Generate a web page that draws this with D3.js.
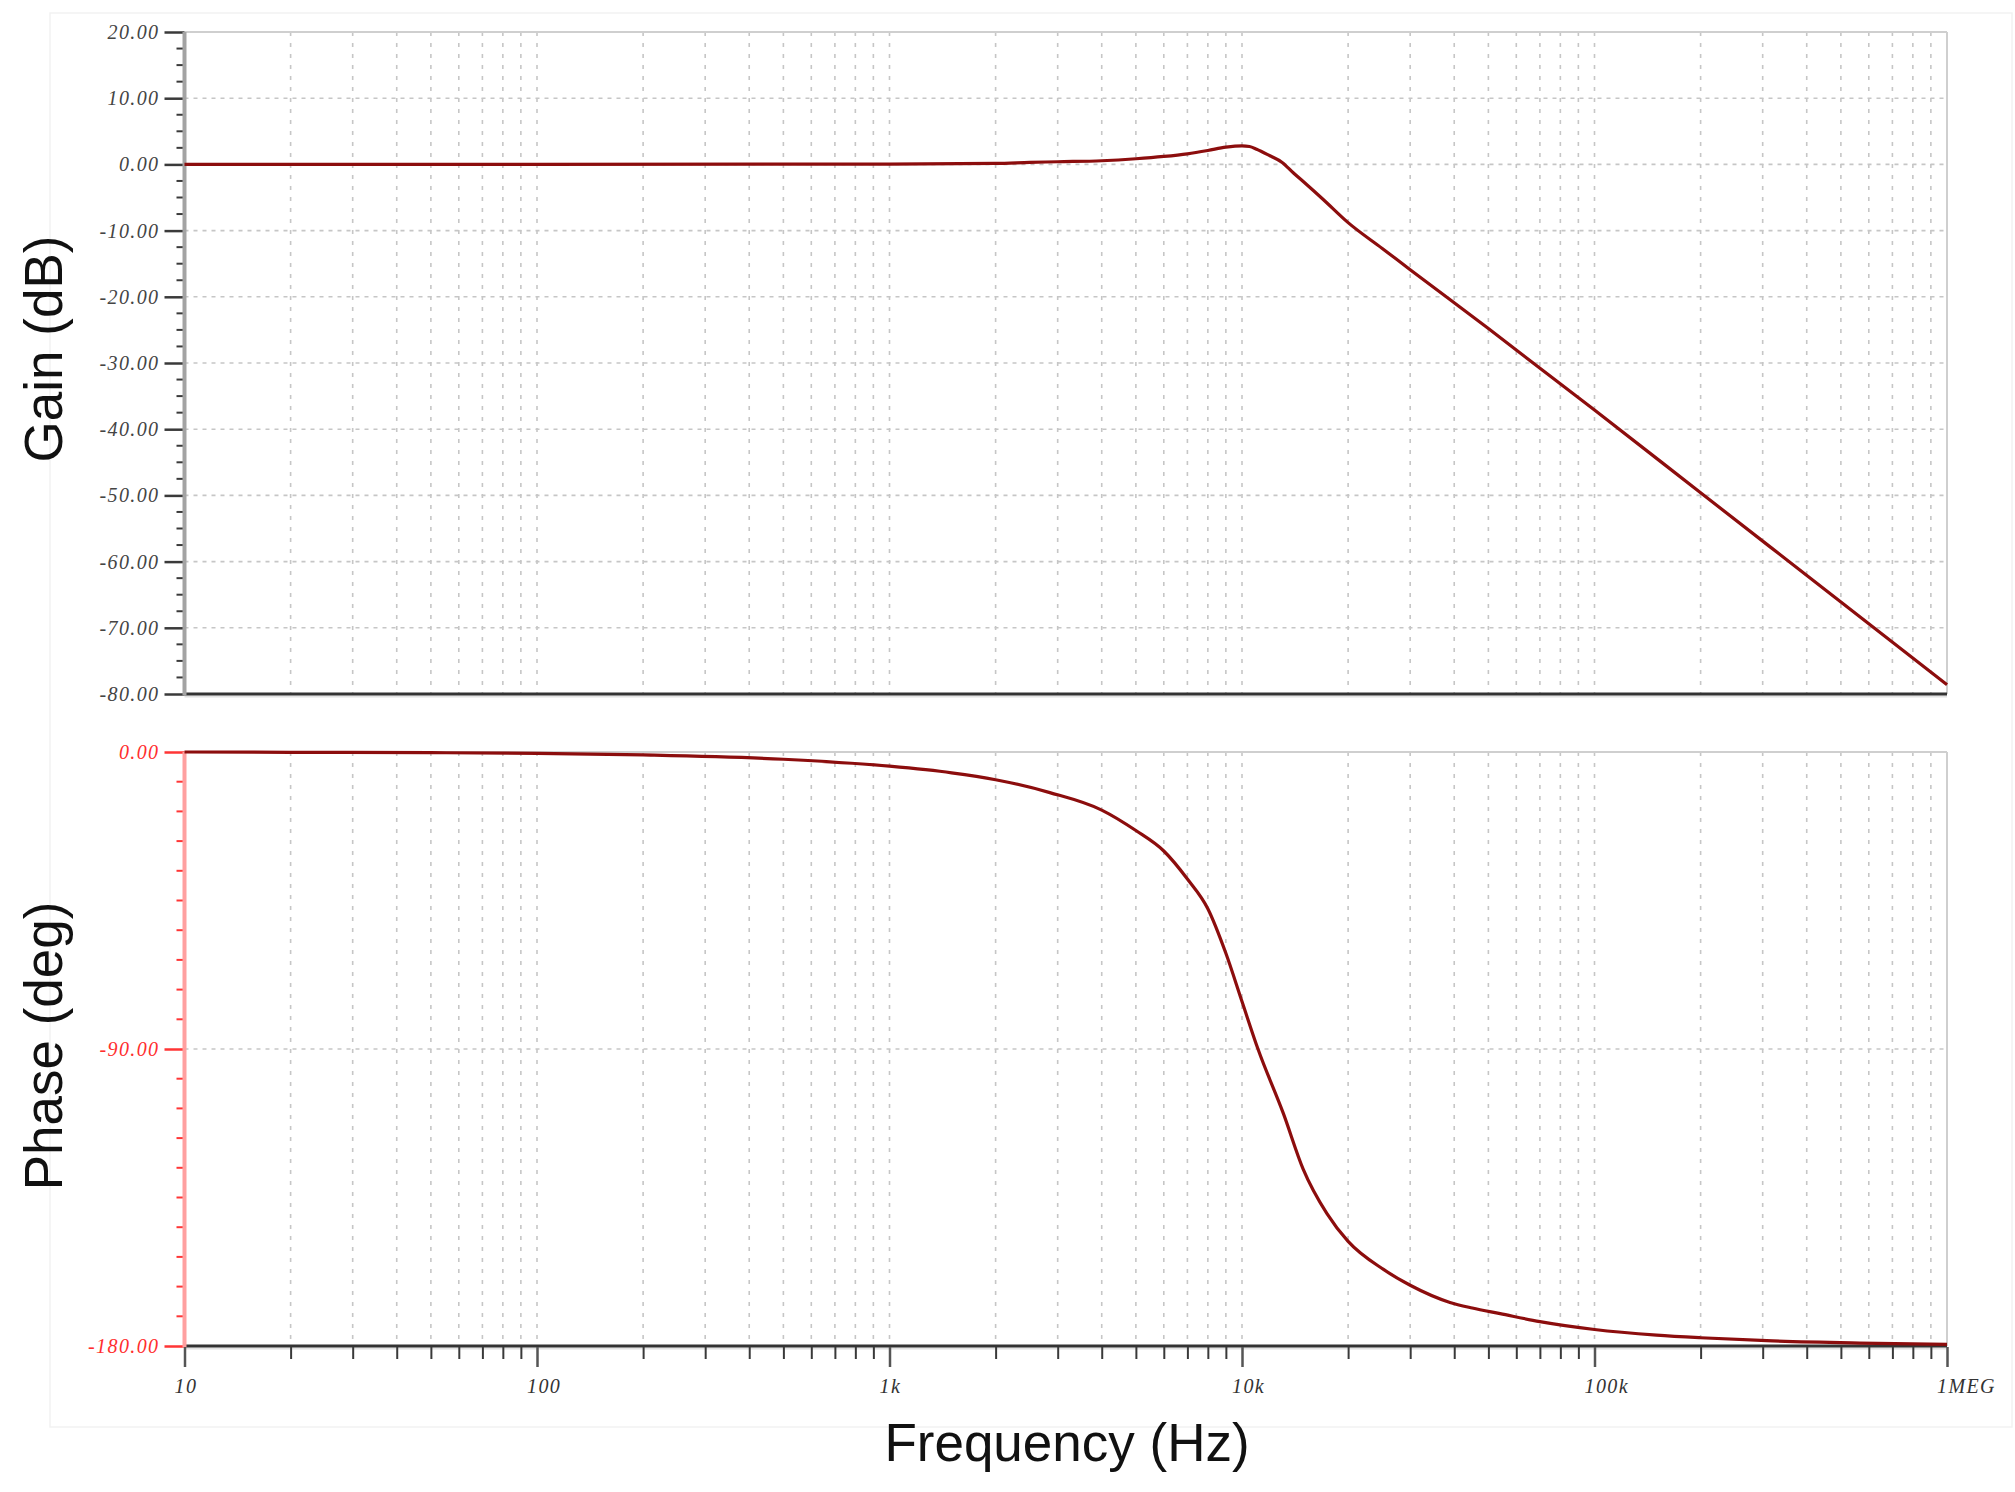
<!DOCTYPE html>
<html>
<head>
<meta charset="utf-8">
<script src="https://cdn.jsdelivr.net/npm/d3@7/dist/d3.min.js"></script>
<style>
  body { margin: 0; background: #fff; }
  svg { display: block; }
  .tick-label { font-family: "Liberation Serif", "Times New Roman", serif; font-style: italic; font-size: 20px; letter-spacing: 1.4px; }
  .title { font-family: "Liberation Sans", Arial, sans-serif; font-size: 53px; fill: #111; }
</style>
</head>
<body>
<svg id="chart"></svg>
<script>
// frequency axis
const freqTicks = [10, 100, 1000, 10000, 100000, 1000000];
const freqTickLabels = ["10", "100", "1k", "10k", "100k", "1MEG"];

// gain axis
const gainTicks = [20, 10, 0, -10, -20, -30, -40, -50, -60, -70, -80];
const gainTickLabels = ["20.00", "10.00", "0.00", "-10.00", "-20.00", "-30.00", "-40.00", "-50.00", "-60.00", "-70.00", "-80.00"];

// phase axis
const phaseTicks = [0, -90, -180];
const phaseTickLabels = ["0.00", "-90.00", "-180.00"];

// gain curve (Hz, dB)
const gainFreq = [10, 100, 1000, 2000, 2500, 3000, 4000, 5000, 6000, 7000, 8000, 9000, 10000, 10500, 11000, 12000, 13000, 14000, 15000, 17000, 20000, 25000, 30000, 50000, 100000, 200000, 500000, 1000000];
const gainDb = [0, 0, 0.05, 0.15, 0.3, 0.4, 0.55, 0.85, 1.2, 1.6, 2.1, 2.6, 2.8, 2.7, 2.3, 1.3, 0.3, -1.3, -2.7, -5.3, -8.8, -12.7, -15.9, -24.8, -37.1, -49.6, -66.1, -78.6];

// phase curve (Hz, deg)
const phaseFreq = [10, 20, 50, 100, 200, 500, 1000, 1500, 2000, 2850, 4000, 5000, 6000, 7000, 8000, 9000, 10000, 11100, 13100, 14900, 17400, 20000, 25200, 30000, 38900, 45000, 54000, 70000, 100000, 150000, 200000, 308000, 566000, 1000000];
const phaseDeg = [0, -0.1, -0.2, -0.4, -0.9, -2.2, -4.3, -6.3, -8.4, -12.3, -17.6, -23.8, -30.0, -38.5, -47.5, -61.0, -75.6, -90.0, -109.5, -126.3, -139.8, -148.3, -156.8, -161.6, -166.8, -168.5, -170.2, -172.6, -175.0, -176.7, -177.5, -178.4, -179.1, -179.5];

const W = 2015, H = 1492;
const left = 184.5, right = 1947;

const svg = d3.select("#chart").attr("width", W).attr("height", H);

svg.append("rect")
    .attr("x", 50).attr("y", 13)
    .attr("width", 1962).attr("height", 1414)
    .attr("fill", "none").attr("stroke", "#f2f2f2").attr("stroke-width", 1.5);

const x = d3.scaleLog().domain([10, 1e6]).range([left, right]);
const yGain = d3.scaleLinear().domain([-80, 20]).range([694, 32]);
const yPhase = d3.scaleLinear().domain([-180, 0]).range([1346, 752]);

const minorFreq = x.ticks().filter(f => !freqTicks.includes(f));

const drawPanel = (y, opts) => {
  const [top, bottom] = [y.range()[1], y.range()[0]];
  const g = svg.append("g");

  // vertical grid
  g.selectAll(".vgrid").data(x.ticks())
    .enter().append("line")
      .attr("x1", d => x(d)).attr("x2", d => x(d))
      .attr("y1", top).attr("y2", bottom)
      .attr("stroke", "#c6c6c6").attr("stroke-width", 1.6)
      .attr("stroke-dasharray", "4,7");

  // horizontal grid
  g.selectAll(".hgrid").data(opts.grid)
    .enter().append("line")
      .attr("x1", left).attr("x2", right)
      .attr("y1", d => y(d)).attr("y2", d => y(d))
      .attr("stroke", "#c6c6c6").attr("stroke-width", 1.6)
      .attr("stroke-dasharray", "4,5");

  // frame top & right
  g.append("line").attr("x1", left).attr("x2", right).attr("y1", top).attr("y2", top)
    .attr("stroke", "#cfcfcf").attr("stroke-width", 2);
  g.append("line").attr("x1", right).attr("x2", right).attr("y1", top).attr("y2", bottom)
    .attr("stroke", "#cfcfcf").attr("stroke-width", 2);

  // bottom axis line
  g.append("line").attr("x1", left).attr("x2", right).attr("y1", bottom + 2.5).attr("y2", bottom + 2.5)
    .attr("stroke", "#e2e2e2").attr("stroke-width", 2);
  g.append("line").attr("x1", left).attr("x2", right).attr("y1", bottom).attr("y2", bottom)
    .attr("stroke", "#333").attr("stroke-width", 3);

  // minor y ticks
  g.selectAll(".ymin").data(opts.minor)
    .enter().append("line")
      .attr("x1", left - 8).attr("x2", left)
      .attr("y1", d => y(d)).attr("y2", d => y(d))
      .attr("stroke", opts.tickColor).attr("stroke-width", 2);

  // major y axis
  const axis = d3.axisLeft(y)
      .tickValues(opts.ticks)
      .tickFormat((d, i) => opts.labels[i])
      .tickSize(20)
      .tickPadding(5);
  const ax = g.append("g").attr("transform", `translate(${left},0)`).call(axis);
  ax.select(".domain").remove();
  ax.selectAll(".tick line").attr("stroke", opts.tickColor).attr("stroke-width", 2.5);
  ax.selectAll(".tick text").attr("class", "tick-label").attr("fill", opts.labelColor);

  g.append("line").attr("x1", left).attr("x2", left).attr("y1", top).attr("y2", bottom + 1.5)
    .attr("stroke", opts.axisColor).attr("stroke-width", 4);

  return g;
};

drawPanel(yGain, {
  ticks: gainTicks, labels: gainTickLabels,
  grid: gainTicks.filter(d => d < 20 && d > -80),
  minor: d3.range(-80, 20, 2.5).filter(d => d % 10 !== 0),
  tickColor: "#3a3a3a", labelColor: "#444", axisColor: "#a3a3a3"
});

drawPanel(yPhase, {
  ticks: phaseTicks, labels: phaseTickLabels,
  grid: [-90],
  minor: d3.range(-180, 0, 9).filter(d => d % 90 !== 0),
  tickColor: "#ff3535", labelColor: "#ff2e2e", axisColor: "#ffa0a0"
});

// frequency axis at bottom
const xMinorAxis = d3.axisBottom(x).tickValues(minorFreq).tickFormat("").tickSize(12);
const xm = svg.append("g").attr("transform", "translate(0,1347)").call(xMinorAxis);
xm.select(".domain").remove();
xm.selectAll(".tick line").attr("stroke", "#3a3a3a").attr("stroke-width", 2);

const xMajorAxis = d3.axisBottom(x).tickValues(freqTicks).tickFormat("").tickSize(20);
const xM = svg.append("g").attr("transform", "translate(0,1347)").call(xMajorAxis);
xM.select(".domain").remove();
xM.selectAll(".tick line").attr("stroke", "#555").attr("stroke-width", 2.5);

svg.selectAll(".xlabel").data(freqTicks)
  .enter().append("text")
    .attr("class", "tick-label")
    .attr("x", d => x(d) - 10)
    .attr("y", 1393)
    .attr("fill", "#333")
    .text((d, i) => freqTickLabels[i]);

// curves
const gainLine = d3.line()
    .x((d, i) => x(gainFreq[i]))
    .y(d => yGain(d))
    .curve(d3.curveMonotoneX);

const phaseLine = d3.line()
    .x((d, i) => x(phaseFreq[i]))
    .y(d => yPhase(d))
    .curve(d3.curveMonotoneX);

svg.append("path").datum(gainDb)
    .attr("d", gainLine)
    .attr("fill", "none").attr("stroke", "#8c0d0d").attr("stroke-width", 3.2);

svg.append("path").datum(phaseDeg)
    .attr("d", phaseLine)
    .attr("fill", "none").attr("stroke", "#8c0d0d").attr("stroke-width", 3.2);

// titles
svg.append("text").attr("class", "title")
    .attr("transform", "translate(62,349) rotate(-90)")
    .attr("text-anchor", "middle")
    .text("Gain (dB)");

svg.append("text").attr("class", "title")
    .attr("transform", "translate(62,1046) rotate(-90)")
    .attr("text-anchor", "middle")
    .text("Phase (deg)");

svg.append("text").attr("class", "title")
    .attr("x", 1067).attr("y", 1461)
    .attr("text-anchor", "middle")
    .text("Frequency (Hz)");
</script>
</body>
</html>
